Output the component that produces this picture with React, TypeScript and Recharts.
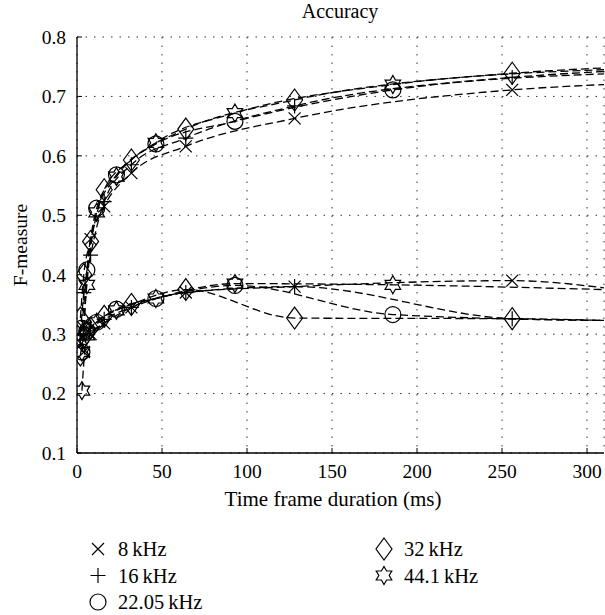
import React from 'react';
import { LineChart, Line, XAxis, YAxis, CartesianGrid } from 'recharts';

// Axis ticks
const X_TICKS = [0, 50, 100, 150, 200, 250, 300];
const Y_TICKS = [0.1, 0.2, 0.3, 0.4, 0.5, 0.6, 0.7, 0.8];

// Frame durations (ms) per sampling rate; 310 is where the curve leaves the frame
const X_8K = [4, 8, 16, 32, 64, 128, 256, 310];
const X_16K = [2, 4, 8, 16, 32, 64, 128, 256, 310];
const X_22K = [2.9, 5.8, 11.6, 23.2, 46.4, 92.9, 185.8, 310];
const X_32K = [2, 4, 8, 16, 32, 64, 128, 256, 310];
const X_44K = [2.9, 5.8, 11.6, 23.2, 46.4, 92.9, 185.8, 310];

// F-measure, upper family of curves
const UP_8K = [0.31, 0.46, 0.515, 0.571, 0.616, 0.663, 0.711, 0.72];
const UP_16K = [0.3, 0.37, 0.433, 0.523, 0.585, 0.63, 0.684, 0.732, 0.742];
const UP_22K = [0.31, 0.408, 0.512, 0.568, 0.62, 0.658, 0.711, 0.738];
const UP_32K = [0.327, 0.4, 0.456, 0.543, 0.593, 0.645, 0.694, 0.739, 0.748];
const UP_44K = [0.27, 0.383, 0.505, 0.565, 0.622, 0.672, 0.72, 0.745];

// F-measure, lower family of curves
const LO_8K = [0.27, 0.3, 0.318, 0.345, 0.37, 0.38, 0.39, 0.378];
const LO_16K = [0.29, 0.3, 0.31, 0.325, 0.345, 0.37, 0.38, 0.326, 0.323];
const LO_22K = [0.27, 0.305, 0.32, 0.342, 0.36, 0.382, 0.333, 0.323];
const LO_32K = [0.265, 0.295, 0.31, 0.33, 0.35, 0.375, 0.327, 0.326, 0.323];
const LO_44K = [0.205, 0.298, 0.32, 0.34, 0.36, 0.385, 0.383, 0.375];

const X_EDGE = 310;
const FONT = '"Liberation Serif", "DejaVu Serif", serif';

type Kind = 'x' | 'plus' | 'circle' | 'diamond' | 'star';

const SERIES: { name: string; kind: Kind; xs: number[]; up: number[]; lo: number[] }[] = [
  { name: '8\u2009kHz', kind: 'x', xs: X_8K, up: UP_8K, lo: LO_8K },
  { name: '16\u2009kHz', kind: 'plus', xs: X_16K, up: UP_16K, lo: LO_16K },
  { name: '22.05\u2009kHz', kind: 'circle', xs: X_22K, up: UP_22K, lo: LO_22K },
  { name: '32\u2009kHz', kind: 'diamond', xs: X_32K, up: UP_32K, lo: LO_32K },
  { name: '44.1\u2009kHz', kind: 'star', xs: X_44K, up: UP_44K, lo: LO_44K },
];

const toPoints = (xs: number[], ys: number[]) =>
  xs.map((x, i) => ({ x, y: ys[i], edge: x === X_EDGE }));

const starPath = (cx: number, cy: number, r: number) => {
  const ri = r / Math.sqrt(3);
  const pts: string[] = [];
  for (let k = 0; k < 12; k++) {
    const a = (-90 + k * 30) * (Math.PI / 180);
    const rr = k % 2 === 0 ? r : ri;
    pts.push(`${(cx + rr * Math.cos(a)).toFixed(2)},${(cy + rr * Math.sin(a)).toFixed(2)}`);
  }
  return `M${pts.join('L')}Z`;
};

const Marker = ({ kind, cx, cy }: { kind: Kind; cx: number; cy: number }) => {
  const s = { stroke: '#000', strokeWidth: 1.2, fill: 'none' };
  switch (kind) {
    case 'x':
      return (
        <g {...s}>
          <path d={`M${cx - 6},${cy - 6}L${cx + 6},${cy + 6}M${cx - 6},${cy + 6}L${cx + 6},${cy - 6}`} />
        </g>
      );
    case 'plus':
      return (
        <g {...s}>
          <path d={`M${cx - 7.5},${cy}L${cx + 7.5},${cy}M${cx},${cy - 7.5}L${cx},${cy + 7.5}`} />
        </g>
      );
    case 'circle':
      return <circle cx={cx} cy={cy} r={8} {...s} />;
    case 'diamond':
      return <path d={`M${cx},${cy - 11}L${cx + 8},${cy}L${cx},${cy + 11}L${cx - 8},${cy}Z`} {...s} />;
    default:
      return <path d={starPath(cx, cy, 9)} {...s} />;
  }
};

const makeDot = (kind: Kind, id: string) => (props: any) => {
  const { cx, cy, payload, index } = props;
  if (payload.edge || cx == null || cy == null) return <g key={`${id}-${index}`} />;
  return (
    <g key={`${id}-${index}`}>
      <Marker kind={kind} cx={cx} cy={cy} />
    </g>
  );
};

const tickStyle = { fill: '#000', fontSize: 19.5, fontFamily: FONT };

export default function App() {
  return (
    <div style={{ position: 'absolute', left: 0, top: 0, width: 605, height: 615, background: '#fff', fontFamily: FONT }}>
      <LineChart width={605} height={615} margin={{ top: 37, right: 1, bottom: 132, left: 17 }}>
        <CartesianGrid stroke="#333" strokeDasharray="1.5 7" />
        <XAxis
          dataKey="x"
          type="number"
          domain={[0, X_EDGE]}
          ticks={X_TICKS}
          allowDataOverflow
          height={30}
          tickSize={-5}
          tickMargin={16}
          tick={tickStyle}
          axisLine={{ stroke: '#000', strokeWidth: 1.3 }}
          tickLine={{ stroke: '#000', strokeWidth: 1 }}
        />
        <YAxis
          type="number"
          domain={[0.1, 0.8]}
          ticks={Y_TICKS}
          width={60}
          tickSize={-5}
          tickMargin={16}
          tick={tickStyle}
          tickFormatter={(v: number) => v.toFixed(1)}
          axisLine={{ stroke: '#000', strokeWidth: 1.3 }}
          tickLine={{ stroke: '#000', strokeWidth: 1 }}
        />
        {SERIES.flatMap((s) => [
          <Line
            key={`${s.kind}-up`}
            data={toPoints(s.xs, s.up)}
            dataKey="y"
            type="monotone"
            stroke="#000"
            strokeWidth={1.3}
            strokeDasharray="8 4"
            dot={makeDot(s.kind, `${s.kind}-up`)}
            activeDot={false}
            isAnimationActive={false}
          />,
          <Line
            key={`${s.kind}-lo`}
            data={toPoints(s.xs, s.lo)}
            dataKey="y"
            type="monotone"
            stroke="#000"
            strokeWidth={1.3}
            strokeDasharray="8 4"
            dot={makeDot(s.kind, `${s.kind}-lo`)}
            activeDot={false}
            isAnimationActive={false}
          />,
        ])}
      </LineChart>

      {/* title and axis labels */}
      <svg width={605} height={615} style={{ position: 'absolute', left: 0, top: 0, pointerEvents: 'none' }}>
        <text x={340} y={18} textAnchor="middle" fontSize={20} fontFamily={FONT} fill="#000">Accuracy</text>
        <text x={333} y={506} textAnchor="middle" fontSize={21} fontFamily={FONT} fill="#000">Time frame duration (ms)</text>
        <text x={0} y={0} transform="translate(27,245) rotate(-90)" textAnchor="middle" fontSize={19.5} fontFamily={FONT} fill="#000">F-measure</text>

        {/* legend */}
        {SERIES.map((s, i) => {
          const col = i < 3 ? 0 : 1;
          const row = i < 3 ? i : i - 3;
          const mx = col === 0 ? 98 : 384;
          const my = 549 + row * 26.5;
          return (
            <g key={s.name}>
              <Marker kind={s.kind} cx={mx} cy={my} />
              <text x={mx + 20} y={my + 7} fontSize={20.5} fontFamily={FONT} fill="#000">{s.name}</text>
            </g>
          );
        })}
      </svg>
    </div>
  );
}
